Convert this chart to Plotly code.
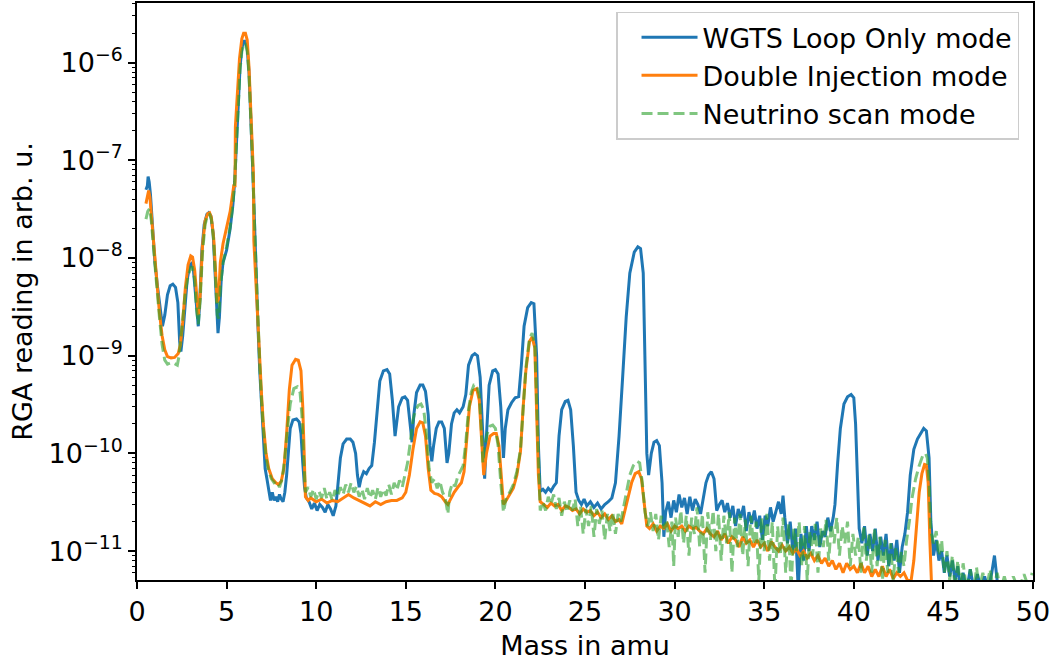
import plotly.graph_objects as go

# ---------------- data ----------------
wgts_mass = [
    0.50, 0.58, 0.62, 0.68, 0.75, 0.85, 1.00, 1.15, 1.30, 1.42,
    1.55, 1.70, 1.85, 2.00, 2.15, 2.28, 2.38, 2.45, 2.55, 2.65,
    2.80, 2.95, 3.05, 3.15, 3.25, 3.35, 3.42, 3.50, 3.62, 3.75,
    3.90, 4.00, 4.12, 4.25, 4.35, 4.45, 4.52, 4.60, 4.70, 4.80,
    5.00, 5.20, 5.35, 5.45, 5.55, 5.65, 5.75, 5.85, 5.95, 6.05,
    6.15, 6.25, 6.35, 6.45, 6.55, 6.65, 6.75, 6.85, 6.95, 7.05,
    7.15, 7.25, 7.35, 7.45, 7.55, 7.65, 7.75, 7.85, 7.95, 8.05,
    8.15, 8.25, 8.35, 8.45, 8.55, 8.70, 8.90, 9.05, 9.15, 9.25,
    9.35, 9.45, 9.60, 9.75, 9.90, 10.05, 10.2, 10.35, 10.5, 10.65,
    10.8, 10.95, 11.1, 11.2, 11.35, 11.5, 11.7, 11.9, 12.05, 12.2,
    12.3, 12.4, 12.5, 12.65, 12.8, 12.95, 13.1, 13.25, 13.4, 13.55,
    13.75, 13.95, 14.1, 14.25, 14.4, 14.5, 14.6, 14.8, 14.95, 15.1,
    15.25, 15.35, 15.45, 15.6, 15.8, 15.95, 16.1, 16.25, 16.35, 16.45,
    16.55, 16.7, 16.85, 17.0, 17.15, 17.3, 17.4, 17.55, 17.7, 17.85,
    18.0, 18.2, 18.35, 18.5, 18.7, 18.85, 19.0, 19.15, 19.3, 19.4,
    19.5, 19.65, 19.85, 20.0, 20.15, 20.3, 20.45, 20.55, 20.7, 20.9,
    21.1, 21.3, 21.45, 21.6, 21.8, 22.0, 22.15, 22.3, 22.4, 22.5,
    22.65, 22.8, 22.95, 23.1, 23.25, 23.4, 23.55, 23.7, 23.9, 24.05,
    24.2, 24.35, 24.5, 24.65, 24.8, 24.95, 25.1, 25.3, 25.5, 25.7,
    25.9, 26.1, 26.3, 26.5, 26.7, 26.9, 27.1, 27.3, 27.5, 27.75,
    27.95, 28.1, 28.25, 28.35, 28.45, 28.55, 28.7, 28.85, 29.0, 29.15,
    29.3, 29.4, 29.5, 29.65, 29.8, 29.95, 30.1, 30.25, 30.4, 30.55,
    30.7, 30.85, 31.0, 31.15, 31.3, 31.45, 31.6, 31.75, 31.9, 32.05,
    32.2, 32.35, 32.5, 32.65, 32.8, 32.95, 33.1, 33.25, 33.4, 33.55,
    33.7, 33.85, 34.0, 34.15, 34.3, 34.45, 34.6, 34.75, 34.9, 35.05,
    35.2, 35.35, 35.5, 35.65, 35.8, 35.95, 36.05, 36.15, 36.3, 36.45,
    36.6, 36.75, 36.9, 37.05, 37.2, 37.35, 37.5, 37.65, 37.8, 37.95,
    38.1, 38.25, 38.4, 38.55, 38.7, 38.85, 38.95, 39.1, 39.25, 39.45,
    39.65, 39.85, 40.0, 40.1, 40.2, 40.3, 40.45, 40.6, 40.75, 40.9,
    41.05, 41.2, 41.35, 41.5, 41.65, 41.8, 41.95, 42.1, 42.25, 42.4,
    42.55, 42.7, 42.85, 43.0, 43.15, 43.35, 43.55, 43.75, 43.9, 44.05,
    44.2, 44.3, 44.45, 44.6, 44.75, 44.9, 45.05, 45.2, 45.35, 45.5,
    45.65, 45.8, 45.95, 46.1, 46.3, 46.5, 46.7, 46.9, 47.1, 47.3,
    47.5, 47.7, 47.85, 48.0, 48.2, 48.5, 49.0, 49.5, 50.0]
wgts_rga = [
    5.0e-8, 5.5e-8, 6.8e-8, 6.0e-8, 4.5e-8, 2.2e-8, 9e-9, 5e-9, 3e-9, 2.0e-9,
    2.6e-9, 4.2e-9, 5.2e-9, 5.4e-9, 5.0e-9, 3.5e-9, 1.4e-9, 1.1e-9, 1.6e-9, 3e-9,
    6e-9, 8.5e-9, 8.8e-9, 7.5e-9, 4.5e-9, 2.4e-9, 2.0e-9, 3.5e-9, 1.2e-8, 2.2e-8,
    2.8e-8, 2.9e-8, 2.7e-8, 1.8e-8, 8e-9, 3e-9, 1.7e-9, 2.5e-9, 6e-9, 9e-9,
    1.2e-8, 2e-8, 3.5e-8, 6e-8, 1.5e-7, 4e-7, 9e-7, 1.4e-6, 1.65e-6, 1.65e-6,
    1.4e-6, 8e-7, 3e-7, 9e-8, 2.5e-8, 6e-9, 2e-9, 7e-10, 3e-10, 1.3e-10,
    7e-11, 5.5e-11, 4e-11, 3.3e-11, 4e-11, 3.3e-11, 3.6e-11, 3.2e-11, 3.8e-11, 3.4e-11,
    3.2e-11, 4e-11, 6e-11, 1.1e-10, 1.8e-10, 2.2e-10, 2.25e-10, 2.1e-10, 1.6e-10, 8e-11,
    4.5e-11, 3.5e-11, 3.2e-11, 2.7e-11, 3.1e-11, 2.6e-11, 3.0e-11, 2.8e-11, 2.5e-11, 3.0e-11,
    2.7e-11, 2.3e-11, 2.9e-11, 4.5e-11, 9e-11, 1.25e-10, 1.4e-10, 1.4e-10, 1.3e-10, 1.0e-10,
    6e-11, 4.5e-11, 5.5e-11, 6.5e-11, 6.2e-11, 7e-11, 7.5e-11, 1.3e-10, 3e-10, 5.5e-10,
    7e-10, 7.2e-10, 6.5e-10, 3.5e-10, 1.5e-10, 2e-10, 3e-10, 3.7e-10, 3.8e-10, 3.5e-10,
    2e-10, 1.3e-10, 2.5e-10, 4.2e-10, 5e-10, 5e-10, 4.3e-10, 2.5e-10, 1.2e-10, 8.3e-11,
    1.2e-10, 1.8e-10, 2.1e-10, 2.1e-10, 1.8e-10, 8e-11, 1e-10, 2e-10, 2.6e-10, 2.8e-10,
    2.6e-10, 3e-10, 4e-10, 8e-10, 1.0e-9, 1.05e-9, 1.0e-9, 6e-10, 1.5e-10, 5.5e-11,
    1.5e-10, 5e-10, 7e-10, 7.2e-10, 6.5e-10, 3e-10, 9e-11, 1.8e-10, 2.8e-10, 3.3e-10,
    3.7e-10, 3.8e-10, 8e-10, 2e-9, 3.1e-9, 3.5e-9, 3.4e-9, 1.0e-9, 1.2e-10, 4.1e-11,
    4.3e-11, 4e-11, 4.4e-11, 4.1e-11, 4.6e-11, 5e-11, 1.5e-10, 2.8e-10, 3.4e-10, 3.5e-10,
    2.8e-10, 1.2e-10, 4e-11, 3.3e-11, 3e-11, 3.4e-11, 2.9e-11, 3.2e-11, 2.8e-11, 3.1e-11,
    2.7e-11, 3.0e-11, 3.2e-11, 3.5e-11, 5e-11, 1.5e-10, 6e-10, 2.5e-9, 7e-9, 1.15e-8,
    1.3e-8, 1.25e-8, 7e-9, 1e-9, 1e-10, 6e-11, 1e-10, 1.3e-10, 1.35e-10, 1.2e-10,
    5e-11, 1.4e-11, 2.5e-11, 3.2e-11, 2.2e-11, 3.3e-11, 2.5e-11, 3.8e-11, 2.8e-11, 3.5e-11,
    2.4e-11, 3.6e-11, 2.6e-11, 3.4e-11, 3.0e-11, 2.4e-11, 3.5e-11, 5e-11, 6e-11, 6.5e-11,
    5.5e-11, 2.6e-11, 3.0e-11, 3.3e-11, 2.5e-11, 3.1e-11, 2.2e-11, 2.9e-11, 1.8e-11, 2.7e-11,
    2.2e-11, 2.9e-11, 1.6e-11, 2.5e-11, 1.9e-11, 2.6e-11, 1.7e-11, 2.3e-11, 1.3e-11, 2.3e-11,
    1.8e-11, 2.8e-11, 2.0e-11, 2.6e-11, 3.2e-11, 2.4e-11, 3.7e-11, 2.2e-11, 1.2e-11, 2.0e-11,
    1.0e-11, 1.7e-11, 4e-12, 1.5e-11, 8e-12, 1.8e-11, 1.0e-11, 1.8e-11, 1.3e-11, 2.0e-11,
    1.1e-11, 1.6e-11, 1.4e-11, 2.2e-11, 1.6e-11, 2.2e-11, 3e-11, 8e-11, 1.8e-10, 3.2e-10,
    3.8e-10, 4.0e-10, 3.7e-10, 2e-10, 5e-11, 1.7e-11, 1.2e-11, 1.8e-11, 9e-12, 1.5e-11,
    1.0e-11, 1.7e-11, 8e-12, 1.4e-11, 9e-12, 1.5e-11, 7e-12, 1.2e-11, 8e-12, 1.3e-11,
    6e-12, 1.1e-11, 1.5e-11, 2.5e-11, 6e-11, 1.1e-10, 1.4e-10, 1.6e-10, 1.8e-10, 1.7e-10,
    9e-11, 2e-11, 9e-12, 1.3e-11, 8e-12, 1.0e-11, 6e-12, 9e-12, 5.5e-12, 8e-12,
    5e-12, 7e-12, 4e-12, 6e-12, 4e-12, 6.5e-12, 4e-12, 5.8e-12, 4e-12, 5.5e-12,
    4e-12, 6e-12, 9e-12, 5e-12, 4e-12, 4e-12, 4e-12, 4e-12, 4e-12]

di_mass = [
    0.50, 0.58, 0.65, 0.72, 0.80, 0.95, 1.10, 1.25, 1.40, 1.55,
    1.70, 1.90, 2.10, 2.30, 2.42, 2.55, 2.70, 2.85, 3.00, 3.10,
    3.22, 3.32, 3.42, 3.52, 3.65, 3.80, 3.95, 4.05, 4.15, 4.28,
    4.38, 4.48, 4.55, 4.65, 4.80, 5.00, 5.20, 5.40, 5.47, 5.49,
    5.60, 5.72, 5.85, 5.95, 6.05, 6.15, 6.25, 6.35, 6.45, 6.50,
    6.52, 6.62, 6.72, 6.85, 6.95, 7.05, 7.20, 7.35, 7.55, 7.75,
    7.90, 8.05, 8.20, 8.35, 8.50, 8.65, 8.85, 9.00, 9.15, 9.25,
    9.32, 9.40, 9.55, 9.70, 10.0, 10.3, 10.6, 10.9, 11.2, 11.5,
    11.8, 12.1, 12.4, 12.7, 13.0, 13.3, 13.6, 13.9, 14.2, 14.5,
    14.8, 15.0, 15.2, 15.4, 15.6, 15.8, 15.95, 16.1, 16.25, 16.4,
    16.6, 16.8, 17.0, 17.2, 17.35, 17.5, 17.7, 17.9, 18.1, 18.25,
    18.4, 18.55, 18.75, 18.95, 19.1, 19.25, 19.35, 19.5, 19.7, 19.9,
    20.05, 20.2, 20.35, 20.45, 20.6, 20.8, 21.0, 21.2, 21.4, 21.55,
    21.7, 21.9, 22.05, 22.2, 22.3, 22.4, 22.5, 22.7, 22.9, 23.1,
    23.3, 23.5, 23.7, 23.9, 24.1, 24.3, 24.5, 24.7, 24.9, 25.1,
    25.3, 25.5, 25.7, 25.9, 26.1, 26.3, 26.5, 26.7, 26.9, 27.05,
    27.2, 27.4, 27.6, 27.8, 28.0, 28.15, 28.3, 28.45, 28.6, 28.8,
    29.0, 29.2, 29.4, 29.6, 29.8, 30.0, 30.2, 30.4, 30.6, 30.8,
    31.0, 31.2, 31.4, 31.6, 31.8, 32.0, 32.2, 32.4, 32.6, 32.8,
    33.0, 33.2, 33.4, 33.6, 33.8, 34.0, 34.2, 34.4, 34.6, 34.8,
    35.0, 35.2, 35.4, 35.6, 35.8, 36.0, 36.2, 36.4, 36.6, 36.8,
    37.0, 37.2, 37.4, 37.6, 37.8, 38.0, 38.2, 38.4, 38.6, 38.8,
    39.0, 39.2, 39.4, 39.6, 39.8, 40.0, 40.2, 40.4, 40.6, 40.8,
    41.0, 41.2, 41.4, 41.6, 41.8, 42.0, 42.2, 42.4, 42.6, 42.8,
    43.0, 43.2, 43.35, 43.5, 43.65, 43.8, 43.95, 44.05, 44.15, 44.25,
    44.35, 45.0, 50.0]
di_rga = [
    3.6e-8, 4.2e-8, 4.9e-8, 4.2e-8, 2.8e-8, 1.2e-8, 5.5e-9, 2.8e-9, 1.6e-9, 1.15e-9,
    9.8e-10, 9.5e-10, 9.6e-10, 1.05e-9, 1.3e-9, 2.2e-9, 5e-9, 8.5e-9, 1.05e-8, 1.02e-8,
    7.5e-9, 4e-9, 2.6e-9, 4e-9, 1.3e-8, 2.4e-8, 2.85e-8, 2.9e-8, 2.6e-8, 1.6e-8,
    7e-9, 3.5e-9, 3.8e-9, 9e-9, 1.4e-8, 2.0e-8, 3e-8, 5.5e-8, 5.5e-8, 2.2e-7,
    4.5e-7, 1.1e-6, 1.75e-6, 2.0e-6, 2.0e-6, 1.7e-6, 9e-7, 3.5e-7, 1.1e-7, 7e-8,
    1.5e-8, 6e-9, 2.5e-9, 9e-10, 4e-10, 2e-10, 1e-10, 7e-11, 5.5e-11, 5e-11,
    4.8e-11, 5.2e-11, 7e-11, 1.6e-10, 4.5e-10, 8e-10, 9.2e-10, 9e-10, 7e-10, 3e-10,
    9e-11, 3.6e-11, 3.3e-11, 3.5e-11, 3.2e-11, 3.4e-11, 3.1e-11, 3.3e-11, 3.2e-11, 3.5e-11,
    3.8e-11, 3.5e-11, 3.3e-11, 3.1e-11, 2.9e-11, 3.2e-11, 3.0e-11, 3.2e-11, 3.3e-11, 3.3e-11,
    3.5e-11, 4e-11, 6e-11, 1.1e-10, 1.8e-10, 2.1e-10, 2.05e-10, 1.5e-10, 7e-11, 4.2e-11,
    3.9e-11, 3.8e-11, 3.6e-11, 3.2e-11, 3e-11, 3.4e-11, 4e-11, 4.5e-11, 5e-11, 6.5e-11,
    1.3e-10, 3e-10, 4.4e-10, 4.6e-10, 3.5e-10, 1.2e-10, 6e-11, 1e-10, 1.5e-10, 1.6e-10,
    1.6e-10, 1.2e-10, 5e-11, 3e-11, 3.3e-11, 3.8e-11, 4.4e-11, 6e-11, 1.05e-10, 3e-10,
    7e-10, 1.4e-9, 1.55e-9, 1.2e-9, 3e-10, 6e-11, 3.2e-11, 3e-11, 2.8e-11, 3.1e-11,
    2.9e-11, 3e-11, 2.6e-11, 2.9e-11, 2.8e-11, 2.6e-11, 2.7e-11, 2.4e-11, 2.7e-11, 2.5e-11,
    2.6e-11, 2.3e-11, 2.5e-11, 2.2e-11, 2.4e-11, 2.1e-11, 2.3e-11, 2.0e-11, 2.1e-11, 1.9e-11,
    2.5e-11, 3.5e-11, 5e-11, 6.2e-11, 6.5e-11, 5.5e-11, 3e-11, 1.8e-11, 1.7e-11, 1.9e-11,
    1.6e-11, 1.8e-11, 1.7e-11, 1.9e-11, 1.6e-11, 1.8e-11, 1.7e-11, 1.8e-11, 1.6e-11, 1.8e-11,
    1.7e-11, 1.75e-11, 1.6e-11, 1.5e-11, 1.7e-11, 1.5e-11, 1.4e-11, 1.6e-11, 1.3e-11, 1.5e-11,
    1.2e-11, 1.4e-11, 1.3e-11, 1.1e-11, 1.4e-11, 1.2e-11, 1.3e-11, 1.1e-11, 1.3e-11, 1.1e-11,
    1.2e-11, 1.0e-11, 1.25e-11, 1.1e-11, 1.0e-11, 1.15e-11, 1.0e-11, 1.1e-11, 9.5e-12, 1.05e-11,
    9e-12, 1.0e-11, 8.5e-12, 9.5e-12, 8e-12, 9e-12, 7.5e-12, 8.5e-12, 7e-12, 8e-12,
    6.5e-12, 7.5e-12, 6e-12, 7.5e-12, 6.5e-12, 7e-12, 6e-12, 7.5e-12, 6e-12, 7e-12,
    5.5e-12, 6.5e-12, 5.5e-12, 7e-12, 5.5e-12, 6.5e-12, 5.2e-12, 6e-12, 5.5e-12, 6e-12,
    5e-12, 5e-12, 8e-12, 2e-11, 4e-11, 6.2e-11, 7.7e-11, 7.6e-11, 5e-11, 1.2e-11,
    4e-12, 3e-12, 3e-12]

ns_mass = [
    0.50, 0.60, 0.70, 0.80, 0.95, 1.10, 1.25, 1.40, 1.55, 1.70,
    1.90, 2.10, 2.25, 2.35, 2.50, 2.70, 2.85, 3.00, 3.10, 3.22,
    3.32, 3.42, 3.52, 3.65, 3.80, 3.95, 4.05, 4.15, 4.28, 4.38,
    4.48, 4.56, 4.65, 4.80, 5.00, 5.20, 5.35, 5.45, 5.55, 5.65,
    5.75, 5.85, 5.95, 6.05, 6.15, 6.25, 6.35, 6.45, 6.55, 6.65,
    6.75, 6.85, 6.95, 7.05, 7.20, 7.35, 7.50, 7.65, 7.80, 7.95,
    8.10, 8.25, 8.40, 8.55, 8.75, 8.95, 9.10, 9.20, 9.30, 9.40,
    9.55, 9.70, 9.85, 10.0, 10.15, 10.3, 10.45, 10.6, 10.75, 10.9,
    11.05, 11.2, 11.35, 11.5, 11.65, 11.8, 11.95, 12.1, 12.25, 12.4,
    12.55, 12.7, 12.85, 13.0, 13.15, 13.3, 13.45, 13.6, 13.75, 13.9,
    14.05, 14.2, 14.35, 14.5, 14.65, 14.8, 14.95, 15.1, 15.25, 15.4,
    15.55, 15.7, 15.85, 16.0, 16.15, 16.3, 16.45, 16.6, 16.75, 16.9,
    17.05, 17.2, 17.35, 17.45, 17.6, 17.75, 17.9, 18.05, 18.2, 18.35,
    18.5, 18.65, 18.8, 18.95, 19.1, 19.2, 19.3, 19.4, 19.55, 19.7,
    19.85, 20.0, 20.15, 20.3, 20.45, 20.6, 20.8, 21.0, 21.2, 21.4,
    21.55, 21.7, 21.9, 22.05, 22.2, 22.3, 22.4, 22.5, 22.65, 22.8,
    22.95, 23.1, 23.25, 23.4, 23.55, 23.7, 23.85, 24.0, 24.15, 24.3,
    24.45, 24.6, 24.75, 24.9, 25.05, 25.2, 25.35, 25.5, 25.65, 25.8,
    25.95, 26.1, 26.25, 26.4, 26.55, 26.7, 26.85, 27.0, 27.15, 27.3,
    27.5, 27.7, 27.9, 28.05, 28.2, 28.35, 28.5, 28.65, 28.8, 28.95,
    29.1, 29.25, 29.4, 29.55, 29.7, 29.85, 29.95, 30.05, 30.2, 30.35,
    30.5, 30.65, 30.8, 30.95, 31.1, 31.25, 31.4, 31.55, 31.7, 31.85,
    32.0, 32.15, 32.3, 32.45, 32.6, 32.75, 32.9, 33.05, 33.2, 33.35,
    33.5, 33.65, 33.8, 33.95, 34.1, 34.25, 34.4, 34.55, 34.7, 34.85,
    35.0, 35.15, 35.3, 35.45, 35.6, 35.75, 35.9, 36.05, 36.2, 36.35,
    36.5, 36.65, 36.8, 36.95, 37.1, 37.25, 37.4, 37.55, 37.7, 37.85,
    38.0, 38.15, 38.3, 38.45, 38.6, 38.75, 38.9, 39.05, 39.2, 39.35,
    39.5, 39.65, 39.8, 39.95, 40.1, 40.25, 40.4, 40.55, 40.7, 40.85,
    41.0, 41.15, 41.3, 41.45, 41.6, 41.75, 41.9, 42.05, 42.2, 42.35,
    42.5, 42.65, 42.8, 42.95, 43.1, 43.25, 43.45, 43.65, 43.85, 44.0,
    44.1, 44.2, 44.3, 44.45, 44.6, 44.75, 44.9, 45.05, 45.2, 45.35,
    45.5, 45.65, 45.8, 45.95, 46.1, 46.3, 46.5, 46.7, 46.85, 47.0,
    47.2, 47.4, 47.6, 47.8, 48.0, 48.2, 48.4, 48.6, 48.9, 49.2,
    49.5, 49.8, 49.95]
ns_rga = [
    2.5e-8, 3.0e-8, 3.2e-8, 2.4e-8, 1.1e-8, 5e-9, 2.5e-9, 1.3e-9, 9e-10, 8.2e-10,
    8.5e-10, 8.3e-10, 8e-10, 1.0e-9, 2e-9, 4.5e-9, 6.5e-9, 8e-9, 8e-9, 6e-9,
    3e-9, 2.1e-9, 3.5e-9, 1.1e-8, 2.2e-8, 2.8e-8, 2.8e-8, 2.5e-8, 1.5e-8, 6e-9,
    2.6e-9, 2.4e-9, 5e-9, 9e-9, 1.3e-8, 2.1e-8, 3.5e-8, 6e-8, 1.4e-7, 3.8e-7,
    8.5e-7, 1.3e-6, 1.55e-6, 1.55e-6, 1.3e-6, 7.5e-7, 3e-7, 9e-8, 2.5e-8, 7e-9,
    2.2e-9, 8e-10, 3.5e-10, 1.8e-10, 9e-11, 6.5e-11, 5.5e-11, 5e-11, 5.2e-11, 4.5e-11,
    5.5e-11, 9e-11, 1.8e-10, 3.2e-10, 4.6e-10, 4.8e-10, 4.2e-10, 2.5e-10, 9e-11, 4e-11,
    4.5e-11, 3.6e-11, 4.3e-11, 3.4e-11, 4.1e-11, 3.5e-11, 4.4e-11, 3.4e-11, 4.0e-11, 3.3e-11,
    4.2e-11, 3.6e-11, 4.5e-11, 3.8e-11, 4.8e-11, 4.0e-11, 5.0e-11, 4.0e-11, 4.6e-11, 3.6e-11,
    4.3e-11, 3.4e-11, 4.4e-11, 3.5e-11, 4.2e-11, 3.4e-11, 4.5e-11, 3.6e-11, 4.3e-11, 3.7e-11,
    4.8e-11, 3.8e-11, 5e-11, 4.2e-11, 5.3e-11, 4.5e-11, 6e-11, 8e-11, 1.3e-10, 2.2e-10,
    2.8e-10, 3.1e-10, 3.2e-10, 2.8e-10, 1.6e-10, 7e-11, 5e-11, 5.5e-11, 4.4e-11, 5.2e-11,
    4.0e-11, 3.5e-11, 2.4e-11, 4.0e-11, 5e-11, 4.6e-11, 5.8e-11, 6.5e-11, 7.5e-11, 1.3e-10,
    2.8e-10, 4.2e-10, 5e-10, 5e-10, 4e-10, 2e-10, 8e-11, 1.2e-10, 1.6e-10, 1.9e-10,
    1.95e-10, 1.8e-10, 1.2e-10, 5e-11, 2.5e-11, 3.5e-11, 4e-11, 4.8e-11, 6.5e-11, 1.1e-10,
    3.2e-10, 7.5e-10, 1.5e-9, 1.7e-9, 1.3e-9, 3e-10, 7e-11, 2.6e-11, 3.2e-11, 2.6e-11,
    3.6e-11, 3.0e-11, 3.8e-11, 2.7e-11, 3.5e-11, 2.3e-11, 3.2e-11, 2.5e-11, 3.3e-11, 2.6e-11,
    3.4e-11, 1.8e-11, 2.9e-11, 1.5e-11, 2.7e-11, 1.8e-11, 2.9e-11, 1.4e-11, 2.7e-11, 1.9e-11,
    2.6e-11, 1.3e-11, 2.4e-11, 1.6e-11, 2.5e-11, 1.5e-11, 2.4e-11, 2.0e-11, 2.8e-11, 4e-11,
    6e-11, 7.5e-11, 8.3e-11, 8e-11, 5e-11, 2.5e-11, 1.8e-11, 2.5e-11, 1.6e-11, 2.4e-11,
    1.3e-11, 2.3e-11, 1.7e-11, 2.1e-11, 1.1e-11, 2.0e-11, 7e-12, 2.2e-11, 1.4e-11, 2.6e-11,
    1.2e-11, 2.3e-11, 9e-12, 2.2e-11, 1.5e-11, 2.8e-11, 1.1e-11, 2.4e-11, 6e-12, 2.5e-11,
    1.3e-11, 2.6e-11, 1.0e-11, 2.4e-11, 8e-12, 2.3e-11, 1.2e-11, 2.5e-11, 6e-12, 2.2e-11,
    1.1e-11, 2.4e-11, 9e-12, 2.1e-11, 7e-12, 2.3e-11, 1.2e-11, 2.0e-11, 5e-12, 2.2e-11,
    1.0e-11, 2.4e-11, 8e-12, 2.0e-11, 4e-12, 1.8e-11, 9e-12, 2.2e-11, 6e-12, 1.9e-11,
    4e-12, 1.7e-11, 1.0e-11, 2.0e-11, 7e-12, 1.8e-11, 5e-12, 1.6e-11, 9e-12, 1.9e-11,
    6e-12, 1.7e-11, 1.1e-11, 2.1e-11, 8e-12, 1.9e-11, 1.2e-11, 2.2e-11, 9e-12, 1.8e-11,
    1.2e-11, 2.0e-11, 7e-12, 1.5e-11, 9e-12, 1.4e-11, 6e-12, 1.8e-11, 8e-12, 1.5e-11,
    6e-12, 1.7e-11, 7e-12, 1.4e-11, 5e-12, 1.3e-11, 6e-12, 1.2e-11, 5e-12, 1.1e-11,
    6e-12, 1.0e-11, 7e-12, 1.3e-11, 2e-11, 3.5e-11, 5.5e-11, 7.5e-11, 9.5e-11, 1.0e-10,
    9e-11, 5e-11, 1.6e-11, 1.2e-11, 1.6e-11, 9e-12, 1.3e-11, 6e-12, 1.0e-11, 5e-12,
    9e-12, 4e-12, 8e-12, 4e-12, 7.5e-12, 4e-12, 6.5e-12, 4e-12, 6.8e-12, 4e-12,
    6e-12, 4e-12, 6.5e-12, 4e-12, 6e-12, 4e-12, 5.5e-12, 4e-12, 5.5e-12, 4e-12,
    5.8e-12, 4e-12, 6e-12]

series_names = ["WGTS Loop Only mode", "Double Injection mode", "Neutrino scan mode"]
x_ticks = [0, 5, 10, 15, 20, 25, 30, 35, 40, 45, 50]
y_ticks = [1e-11, 1e-10, 1e-9, 1e-8, 1e-7, 1e-6]
y_ticktext = ["10<sup>\u221211</sup>", "10<sup>\u221210</sup>", "10<sup>\u22129</sup>",
              "10<sup>\u22128</sup>", "10<sup>\u22127</sup>", "10<sup>\u22126</sup>"]
minor_mult = [2, 3, 4, 5, 6, 7, 8, 9]
minor_decades = [1e-12, 1e-11, 1e-10, 1e-9, 1e-8, 1e-7, 1e-6]

assert len(wgts_mass) == len(wgts_rga), (len(wgts_mass), len(wgts_rga))
assert len(di_mass) == len(di_rga), (len(di_mass), len(di_rga))
assert len(ns_mass) == len(ns_rga), (len(ns_mass), len(ns_rga))

# ---------------- figure ----------------
FONT = "DejaVu Sans"
FS = 27
Y_RANGE = [-11.296, -5.39]

fig = go.Figure()
fig.add_trace(go.Scatter(x=wgts_mass, y=wgts_rga, mode="lines", name=series_names[0],
                         legendgroup="a", line=dict(color="#1f77b4", width=3)))
fig.add_trace(go.Scatter(x=di_mass, y=di_rga, mode="lines", name=series_names[1],
                         legendgroup="b", line=dict(color="#ff7f0e", width=3)))
fig.add_trace(go.Scatter(x=ns_mass, y=ns_rga, mode="lines", name=series_names[2],
                         legendgroup="c",
                         line=dict(color="rgba(44,160,44,0.6)", width=3, dash="11px,5px")))
# empty trace that only carries the minor-tick axis
fig.add_trace(go.Scatter(x=[None], y=[None], yaxis="y2", showlegend=False,
                         hoverinfo="skip", mode="lines"))

minor_vals = [m * d for d in minor_decades for m in minor_mult]

fig.update_layout(
    width=1054, height=663,
    margin=dict(l=137, r=21, t=1, b=83),
    paper_bgcolor="white", plot_bgcolor="white",
    font=dict(family=FONT, size=FS, color="black"),
    showlegend=True,
    legend=dict(x=0.9844, y=0.985, xanchor="right", yanchor="top",
                bgcolor="rgba(255,255,255,0.8)", bordercolor="#cccccc", borderwidth=1.5,
                font=dict(family=FONT, size=FS, color="black"),
                traceorder="grouped", tracegroupgap=0, itemwidth=56, indentation=19),
    xaxis=dict(range=[0, 50], tickmode="array", tickvals=x_ticks,
               ticks="outside", ticklen=7, tickwidth=1.6, tickcolor="black",
               showline=True, linecolor="black", linewidth=1.6, mirror=True,
               showgrid=False, zeroline=False,
               tickfont=dict(family=FONT, size=FS, color="black"),
               title=dict(text="Mass in amu", font=dict(family=FONT, size=FS, color="black"),
                          standoff=10)),
    yaxis=dict(type="log", range=Y_RANGE, tickmode="array",
               tickvals=y_ticks, ticktext=y_ticktext,
               ticks="outside", ticklen=7, tickwidth=1.6, tickcolor="black",
               showline=True, linecolor="black", linewidth=1.6, mirror=True,
               showgrid=False, zeroline=False,
               tickfont=dict(family=FONT, size=FS, color="black"),
               title=dict(text="RGA reading in arb. u.",
                          font=dict(family=FONT, size=FS, color="black"), standoff=8)),
    yaxis2=dict(type="log", range=Y_RANGE, overlaying="y", side="left", anchor="x",
                tickmode="array", tickvals=minor_vals, showticklabels=False,
                ticks="outside", ticklen=4, tickwidth=1.2, tickcolor="black",
                showline=False, showgrid=False, zeroline=False),
)

fig.write_html("out.html", config={"displayModeBar": False},
               post_script="document.body.style.margin='0';"
               "document.body.style.overflow='hidden';")
